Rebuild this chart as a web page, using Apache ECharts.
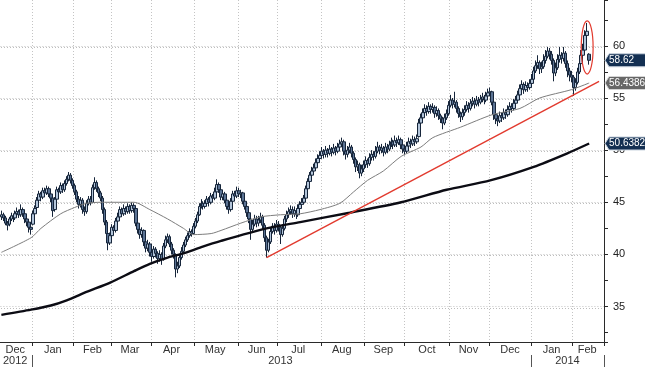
<!DOCTYPE html>
<html><head><meta charset="utf-8">
<script src="https://cdn.jsdelivr.net/npm/echarts@6/dist/echarts.min.js"></script>
<style>html,body{margin:0;padding:0;background:#fff}#c{width:645px;height:367px}</style>
</head><body><div id="c"></div>
<script>
// ---- calendar (trading days) ----
const startDate = '2012-12-07';
const endDate = '2014-02-25';
const holidays = ['2012-12-25','2013-01-01','2013-01-21','2013-02-18','2013-03-29','2013-05-27','2013-07-04','2013-09-02','2013-11-28','2013-12-25','2014-01-01','2014-01-20','2014-02-17'];
const monthNames = ['Jan','Feb','Mar','Apr','May','Jun','Jul','Aug','Sep','Oct','Nov','Dec'];

// ---- daily price bars ----
const opens = [
43.6,43.8,43.5,43.0,42.9,43.4,43.7,43.5,43.9,44.1,
43.8,44.3,43.9,43.4,43.1,42.6,42.9,43.9,44.5,45.2,
45.8,45.5,46.1,45.9,46.3,45.8,45.4,44.3,45.3,46.2,
46.0,46.6,46.2,46.8,47.2,47.6,47.1,46.6,46.0,45.3,
44.8,45.2,44.3,44.1,44.9,45.3,45.0,46.4,46.9,46.3,
45.9,45.4,44.3,43.1,42.0,41.1,41.8,42.6,42.3,43.2,
43.6,44.3,43.9,44.4,44.1,44.6,44.2,44.7,44.4,43.0,
42.4,41.9,42.3,41.2,40.6,41.0,40.2,39.8,40.5,40.1,
39.6,40.0,39.5,40.8,41.4,41.7,41.0,40.4,40.0,38.6,
38.9,39.7,40.3,40.9,41.4,41.8,42.2,42.0,42.7,43.2,
43.8,44.6,44.9,44.6,44.9,45.3,45.0,45.6,45.4,46.0,
46.7,46.2,45.5,45.8,45.2,44.6,44.3,45.1,45.8,45.6,
46.1,45.8,45.9,45.1,44.6,44.0,43.4,42.4,42.9,43.4,
43.0,43.3,43.6,42.8,41.6,40.4,41.2,42.2,42.7,42.3,
42.9,42.6,41.9,42.5,43.4,43.8,44.1,44.3,43.9,44.2,
43.8,44.4,44.8,45.0,45.4,46.3,47.0,47.6,48.0,48.3,
48.8,49.2,49.5,49.9,49.6,50.0,49.7,50.1,49.8,50.2,
49.9,50.3,50.6,50.8,49.9,49.6,50.0,50.3,49.7,49.1,
48.4,48.6,47.8,48.2,48.6,49.0,48.7,49.3,49.6,49.4,
49.9,50.3,50.0,50.2,49.8,50.3,50.1,50.5,50.8,50.5,
50.9,50.7,51.0,50.5,50.1,49.9,50.4,50.8,50.6,51.0,
50.8,51.3,52.6,53.1,53.6,54.0,53.7,54.2,53.9,54.1,
53.5,53.8,53.3,53.0,52.6,53.1,53.5,54.3,54.8,54.4,
54.6,54.0,53.5,53.2,53.6,53.9,54.3,54.0,54.5,54.7,
54.4,54.8,54.6,54.9,55.1,54.8,55.2,55.5,55.6,54.6,
53.4,53.0,52.8,53.3,53.1,53.6,53.4,53.9,54.2,54.0,
54.5,54.8,55.3,55.9,56.3,55.8,56.2,56.0,56.4,56.8,
57.6,58.1,58.4,57.8,58.0,58.6,59.0,59.5,59.2,58.6,
57.4,57.9,58.7,59.1,58.8,59.3,58.3,57.6,57.2,57.0,
56.0,56.5,57.5,58.3,59.1,59.6,61.0,59.2
];
const closes = [
43.8,43.5,43.0,42.8,43.4,43.7,43.5,43.9,44.1,43.8,
44.3,43.9,43.4,43.1,42.6,42.4,43.9,44.4,45.2,45.8,
45.5,46.1,45.9,46.3,45.8,45.4,44.2,45.3,46.2,46.0,
46.6,46.2,46.8,47.2,47.6,47.1,46.6,46.0,45.3,44.8,
45.2,44.3,44.1,44.9,45.3,45.0,46.4,46.9,46.3,45.9,
45.4,44.3,43.1,42.0,41.1,41.8,42.6,42.3,43.2,43.6,
44.3,43.9,44.4,44.1,44.6,44.2,44.7,44.4,43.0,42.4,
41.9,42.3,41.2,40.6,41.0,40.2,39.8,40.5,40.1,39.6,
40.0,39.5,40.8,41.4,41.7,41.0,40.4,40.0,38.6,38.9,
39.7,40.3,40.9,41.4,41.8,42.2,42.0,42.7,43.2,43.8,
44.6,44.9,44.6,44.9,45.3,45.0,45.6,45.4,46.0,46.7,
46.2,45.5,45.8,45.2,44.6,44.3,45.1,45.8,45.6,46.1,
45.8,45.9,45.1,44.6,44.0,43.4,42.4,42.9,43.4,43.0,
43.3,43.6,42.8,41.6,40.4,41.2,42.2,42.7,42.3,42.9,
42.6,41.9,42.5,43.4,43.8,44.1,44.3,43.9,44.2,43.8,
44.4,44.8,45.0,45.4,46.3,47.0,47.6,48.0,48.3,48.8,
49.2,49.5,49.9,49.6,50.0,49.7,50.1,49.8,50.2,49.9,
50.3,50.6,50.8,49.9,49.6,50.0,50.3,49.7,49.1,48.4,
48.6,47.8,48.2,48.6,49.0,48.7,49.3,49.6,49.4,49.9,
50.3,50.0,50.2,49.8,50.3,50.1,50.5,50.8,50.5,50.9,
50.7,51.0,50.5,50.1,49.9,50.4,50.8,50.6,51.0,50.8,
51.1,52.6,53.1,53.6,54.0,53.7,54.2,53.9,54.1,53.5,
53.8,53.3,53.0,52.6,53.1,53.5,54.3,54.8,54.4,54.6,
54.0,53.5,53.2,53.6,53.9,54.3,54.0,54.5,54.7,54.4,
54.8,54.6,54.9,55.1,54.8,55.2,55.5,55.6,54.6,53.4,
53.0,52.8,53.3,53.1,53.6,53.4,53.9,54.2,54.0,54.5,
54.8,55.3,55.9,56.3,55.8,56.2,56.0,56.4,56.8,57.6,
58.1,58.4,57.8,58.0,58.6,59.0,59.5,59.2,58.6,57.4,
57.9,58.7,59.1,58.8,59.3,58.3,57.6,57.2,57.0,56.0,
56.5,57.5,58.3,59.1,59.6,61.0,61.4,58.62
];
const lows = [
43.3,43.2,42.8,42.3,42.7,43.2,43.1,43.3,43.6,43.5,
43.6,43.6,43.0,42.7,42.1,41.9,42.8,43.7,44.3,45.0,
45.1,45.3,45.5,45.7,45.5,45.0,43.6,44.1,45.1,45.6,
45.8,45.9,46.0,46.6,47.0,46.8,46.3,45.7,45.0,44.4,
44.5,43.9,43.7,43.9,44.7,44.7,44.9,46.2,46.0,45.5,
45.1,43.9,42.8,41.6,40.4,40.9,41.6,41.9,42.1,43.0,
43.4,43.6,43.7,43.8,43.9,43.9,44.0,44.0,42.7,42.0,
41.5,41.6,40.8,40.2,40.3,39.8,39.3,39.6,39.7,39.1,
39.3,39.0,39.4,40.6,41.1,40.7,40.0,39.6,37.8,38.2,
38.7,39.5,40.1,40.7,41.2,41.6,41.7,41.9,42.5,43.0,
43.7,44.4,44.3,44.4,44.7,44.6,44.8,45.0,45.2,45.9,
45.9,45.2,45.2,44.9,44.3,43.9,44.1,44.9,45.3,45.4,
45.5,45.4,44.8,44.3,43.6,43.0,41.4,42.1,42.7,42.6,
42.7,43.0,42.4,41.2,39.7,40.2,41.0,42.0,41.9,42.1,
42.2,41.0,41.7,42.3,43.1,43.5,43.8,43.5,43.6,43.4,
43.6,44.2,44.5,44.8,45.2,46.1,46.8,47.4,47.8,48.1,
48.5,49.0,49.2,49.2,49.3,49.3,49.5,49.4,49.6,49.5,
49.7,50.1,50.3,49.5,49.1,49.3,49.7,49.3,48.7,47.9,
48.0,47.3,47.5,47.9,48.3,48.3,48.5,49.0,49.0,49.2,
49.7,49.6,49.7,49.4,49.6,49.7,49.9,50.3,50.1,50.3,
50.3,50.5,50.1,49.7,49.5,49.7,50.2,50.2,50.4,50.4,
50.6,51.2,52.3,52.9,53.4,53.3,53.5,53.5,53.6,53.1,
53.2,52.9,52.6,52.0,52.4,52.9,53.3,54.1,54.0,54.1,
53.6,53.1,52.7,52.9,53.3,53.7,53.6,53.8,54.2,54.0,
54.2,54.2,54.4,54.6,54.4,54.6,55.0,55.2,54.3,52.9,
52.5,52.3,52.6,52.7,52.9,53.0,53.2,53.7,53.6,53.8,
54.3,54.6,55.1,55.7,55.4,55.6,55.6,55.8,56.2,56.6,
57.4,57.8,57.3,57.4,57.8,58.3,58.8,58.7,58.2,56.6,
57.1,57.7,58.4,58.3,58.5,57.9,57.0,56.6,56.5,55.2,
55.7,56.3,57.3,58.1,58.9,59.5,60.6,58.2
];
const highs = [
44.2,44.0,43.7,43.2,43.6,44.0,43.9,44.2,44.5,44.3,
44.8,44.5,44.1,43.6,43.3,42.9,44.2,44.7,45.5,46.1,
46.0,46.4,46.4,46.6,46.5,46.0,45.6,45.5,46.5,46.4,
46.9,46.8,47.1,47.5,47.9,47.8,47.3,46.8,46.2,45.6,
45.5,45.4,44.6,45.2,45.6,45.6,46.7,47.4,47.1,46.5,
46.1,45.6,44.5,43.3,42.3,42.1,42.9,42.8,43.5,44.0,
44.6,44.5,44.8,44.6,44.9,44.8,45.0,44.9,44.5,43.3,
42.7,42.6,42.4,41.5,41.4,41.2,40.5,40.8,40.7,40.3,
40.4,40.2,41.1,41.8,42.0,41.9,41.2,40.6,40.1,39.3,
40.0,40.7,41.2,41.7,42.1,42.5,42.4,43.0,43.5,44.1,
44.9,45.3,45.1,45.2,45.6,45.5,45.9,45.8,46.4,47.2,
46.9,46.4,46.1,46.0,45.4,44.8,45.4,46.1,46.1,46.5,
46.4,46.2,46.0,45.3,44.8,44.2,43.6,43.3,43.8,43.7,
43.7,44.0,43.8,43.0,41.8,41.5,42.6,43.0,43.0,43.3,
43.2,42.8,42.9,43.7,44.2,44.5,44.7,44.6,44.6,44.4,
44.8,45.1,45.4,45.7,46.6,47.3,47.9,48.4,48.7,49.2,
49.6,49.9,50.3,50.1,50.4,50.2,50.5,50.3,50.6,50.4,
50.7,51.0,51.2,51.0,50.1,50.4,50.7,50.5,49.9,49.3,
49.0,48.8,48.6,49.0,49.4,49.2,49.7,50.0,49.9,50.4,
50.8,50.5,50.6,50.4,50.7,50.6,50.9,51.2,51.0,51.4,
51.2,51.4,51.2,50.7,50.4,50.8,51.2,51.1,51.4,51.3,
51.5,53.0,53.5,54.0,54.4,54.3,54.6,54.4,54.5,54.3,
54.2,54.0,53.5,53.2,53.5,53.9,54.7,55.3,55.0,55.6,
54.8,54.2,53.7,54.0,54.3,54.7,54.6,54.9,55.1,55.0,
55.2,55.1,55.3,55.5,55.3,55.6,55.9,56.0,55.7,54.8,
53.7,53.3,53.7,53.6,54.0,53.9,54.3,54.6,54.5,54.9,
55.2,55.7,56.3,56.7,56.5,56.6,56.5,56.8,57.3,58.0,
58.6,59.1,58.6,58.5,59.2,59.6,59.9,59.8,59.5,58.8,
58.4,59.2,59.9,59.4,59.9,59.5,58.6,57.9,57.6,57.2,
56.9,57.9,58.7,59.6,60.2,61.5,62.2,59.3
];

// ---- moving averages (read at selected dates) ----
const ma50 = [
['2012-12-07',40.2],['2012-12-31',41.6],['2013-01-08',42.5],['2013-01-23',43.9],['2013-02-01',44.5],
['2013-02-11',44.9],['2013-02-21',45.0],['2013-03-06',45.0],['2013-03-18',45.0],['2013-03-28',44.3],
['2013-04-11',43.4],['2013-04-23',42.5],['2013-04-30',41.9],['2013-05-13',42.0],['2013-05-20',42.3],
['2013-06-04',43.0],['2013-06-18',43.6],['2013-07-02',43.8],['2013-07-17',43.9],['2013-07-31',44.3],
['2013-08-14',44.9],['2013-08-23',46.0],['2013-09-04',47.1],['2013-09-16',48.0],['2013-09-27',49.4],
['2013-10-11',50.3],['2013-10-21',51.2],['2013-11-08',52.2],['2013-12-03',53.4],['2013-12-23',54.0],
['2014-01-08',55.0],['2014-01-31',55.8],['2014-02-13',56.4386]
];
const ma200 = [
['2012-12-07',34.2],['2012-12-31',34.7],['2013-01-15',35.1],['2013-01-28',35.6],['2013-02-11',36.4],
['2013-02-28',37.3],['2013-03-18',38.4],['2013-03-28',39.1],['2013-04-11',39.7],['2013-04-23',40.1],
['2013-05-06',40.7],['2013-05-20',41.3],['2013-06-21',42.5],['2013-07-17',43.1],['2013-08-21',44.0],
['2013-09-27',45.0],['2013-10-30',46.2],['2013-12-02',47.1],['2014-01-03',48.4],['2014-01-29',49.7],
['2014-02-13',50.6382]
];
const trend = [['2013-06-21',39.7],['2014-02-21',56.6]];

// ---- axis values / annotations ----
const yMin = 31.6, yMax = 64.4;
const gridLevels = [35,40,45,50,55,60];
const tags = [
  {value:58.62, text:'58.62', fill:'#132f52', stroke:'#c9d3de'},
  {value:56.4386, text:'56.4386', fill:'#676767', stroke:'#d5d5d5'},
  {value:50.6382, text:'50.6382', fill:'#132f52', stroke:'#c9d3de'}
];
const ellipseFrom = '2014-02-07', ellipseTo = '2014-02-18', ellipseLow = 57.3, ellipseHigh = 62.4;

// build trading-day categories
const dates = [];
{
  const s = new Date(startDate + 'T00:00:00Z').getTime();
  const e = new Date(endDate + 'T00:00:00Z').getTime();
  for (let t = s; t <= e; t += 86400000) {
    const d = new Date(t); const wd = d.getUTCDay(); const str = d.toISOString().slice(0,10);
    if (wd === 0 || wd === 6 || holidays.indexOf(str) >= 0) continue;
    dates.push(str);
  }
}
const monthStart = new Set(), monthLabel = new Set(), yearStart = new Set(), yearLabel = new Set();
(function(){
  let mFirst = 0, yFirst = 0;
  for (let i = 1; i <= dates.length; i++) {
    const endM = i === dates.length || dates[i].slice(0,7) !== dates[i-1].slice(0,7);
    const endY = i === dates.length || dates[i].slice(0,4) !== dates[i-1].slice(0,4);
    if (endM) { monthLabel.add(Math.floor((mFirst + i - 1) / 2)); if (i < dates.length) monthStart.add(i); mFirst = i; }
    if (endY) { yearLabel.add(Math.floor((yFirst + i - 1) / 2)); if (i < dates.length) yearStart.add(i); yFirst = i; }
  }
})();

const candles = closes.map((c, i) => [opens[i], c, lows[i], highs[i]]);
const FONT = '"Liberation Sans", Arial, sans-serif';

const chart = echarts.init(document.getElementById('c'), null, {renderer: 'canvas'});
const option = {
  animation: false,
  backgroundColor: '#ffffff',
  grid: {left: 0, right: 41, top: 0, bottom: 25, containLabel: false},
  xAxis: [
    {
      type: 'category', data: dates, boundaryGap: true,
      axisLine: {show: true, lineStyle: {color: '#2a2a2a', width: 1}},
      axisTick: {show: true, interval: (i) => monthStart.has(i), length: 4, lineStyle: {color: '#2a2a2a'}},
      splitLine: {show: true, interval: (i) => monthStart.has(i), lineStyle: {color: '#c4c4c4', type: [1, 2], width: 1}},
      axisLabel: {show: true, interval: (i) => monthLabel.has(i), margin: 2, color: '#333', fontSize: 11, fontFamily: FONT,
        formatter: (v) => monthNames[parseInt(v.slice(5,7), 10) - 1]}
    },
    {
      type: 'category', data: dates, boundaryGap: true, position: 'bottom', offset: 13,
      axisLine: {show: false},
      axisTick: {show: true, interval: (i) => yearStart.has(i), length: 12, lineStyle: {color: '#555'}},
      splitLine: {show: false},
      axisLabel: {show: true, interval: (i) => yearLabel.has(i), margin: 0, color: '#333', fontSize: 11, fontFamily: FONT,
        formatter: (v) => v.slice(0,4)}
    }
  ],
  yAxis: {
    type: 'value', position: 'right', min: yMin, max: yMax, scale: true, splitNumber: 6,
    axisLine: {show: true, lineStyle: {color: '#2a2a2a', width: 1}},
    axisTick: {show: true, length: 4, lineStyle: {color: '#2a2a2a'}},
    minorTick: {show: true, splitNumber: 2, length: 4, lineStyle: {color: '#2a2a2a'}},
    axisLabel: {show: true, showMinLabel: false, showMaxLabel: false, margin: 9, color: '#222', fontSize: 11, fontFamily: FONT},
    splitLine: {show: true, showMinLine: false, showMaxLine: false, lineStyle: {color: '#c4c4c4', type: [1, 2], width: 1}}
  },
  series: [
    {
      name: 'price', type: 'candlestick', data: candles, z: 2, barWidth: 3,
      itemStyle: {color: '#b3c5da', color0: '#5b7394', borderColor: '#16253a', borderColor0: '#16253a', borderWidth: 1},
      emphasis: {disabled: true}
    },
    {
      name: 'MA50', type: 'line', data: ma50, z: 3, symbol: 'none', smooth: 0.25,
      lineStyle: {color: '#7d7d7d', width: 1}, emphasis: {disabled: true}
    },
    {
      name: 'MA200', type: 'line', data: ma200, z: 4, symbol: 'none', smooth: 0.25,
      lineStyle: {color: '#0c0c14', width: 2.4}, emphasis: {disabled: true}
    },
    {
      name: 'trend', type: 'line', data: trend, z: 5, symbol: 'none',
      lineStyle: {color: '#e23a2e', width: 1.4}, emphasis: {disabled: true}
    }
  ]
};
chart.setOption(option);

// annotations positioned through the chart's own scales
const graphics = [];
const idxOf = (d) => dates.indexOf(d);
const axisX = chart.convertToPixel({gridIndex: 0}, [dates.length - 1, yMin])[0] + 1;
// extra dotted guide one pixel off each labelled level (the exact row stays hidden in this renderer)
gridLevels.forEach(v => {
  const y = Math.round(chart.convertToPixel({yAxisIndex: 0}, v)) + 1;
  for (let x = 1; x < axisX - 2; x += 3) {
    graphics.push({type: 'rect', z: 1, silent: true, shape: {x: x, y: y, width: 1, height: 1}, style: {fill: '#bdbdbd'}});
  }
});
const p1 = chart.convertToPixel({gridIndex: 0}, [idxOf(ellipseFrom), ellipseHigh]);
const p2 = chart.convertToPixel({gridIndex: 0}, [idxOf(ellipseTo), ellipseLow]);
graphics.push({type: 'ellipse', z: 50, silent: true,
  shape: {cx: (p1[0] + p2[0]) / 2, cy: (p1[1] + p2[1]) / 2, rx: Math.abs(p2[0] - p1[0]) / 2, ry: Math.abs(p2[1] - p1[1]) / 2},
  style: {fill: 'none', stroke: '#e23a2e', lineWidth: 1.2}});
tags.forEach(t => {
  const y = chart.convertToPixel({yAxisIndex: 0}, t.value);
  graphics.push({type: 'polygon', z: 100, silent: true,
    shape: {points: [[axisX + 1, y], [axisX + 5, y - 6.5], [650, y - 6.5], [650, y + 6.5], [axisX + 5, y + 6.5]]},
    style: {fill: t.fill, stroke: t.stroke, lineWidth: 1}});
  graphics.push({type: 'text', z: 101, silent: true, x: axisX + 5, y: y,
    style: {text: t.text, fill: '#ffffff', font: '10px ' + FONT, verticalAlign: 'middle', align: 'left'}});
});
chart.setOption({graphic: graphics});
</script>
</body></html>
